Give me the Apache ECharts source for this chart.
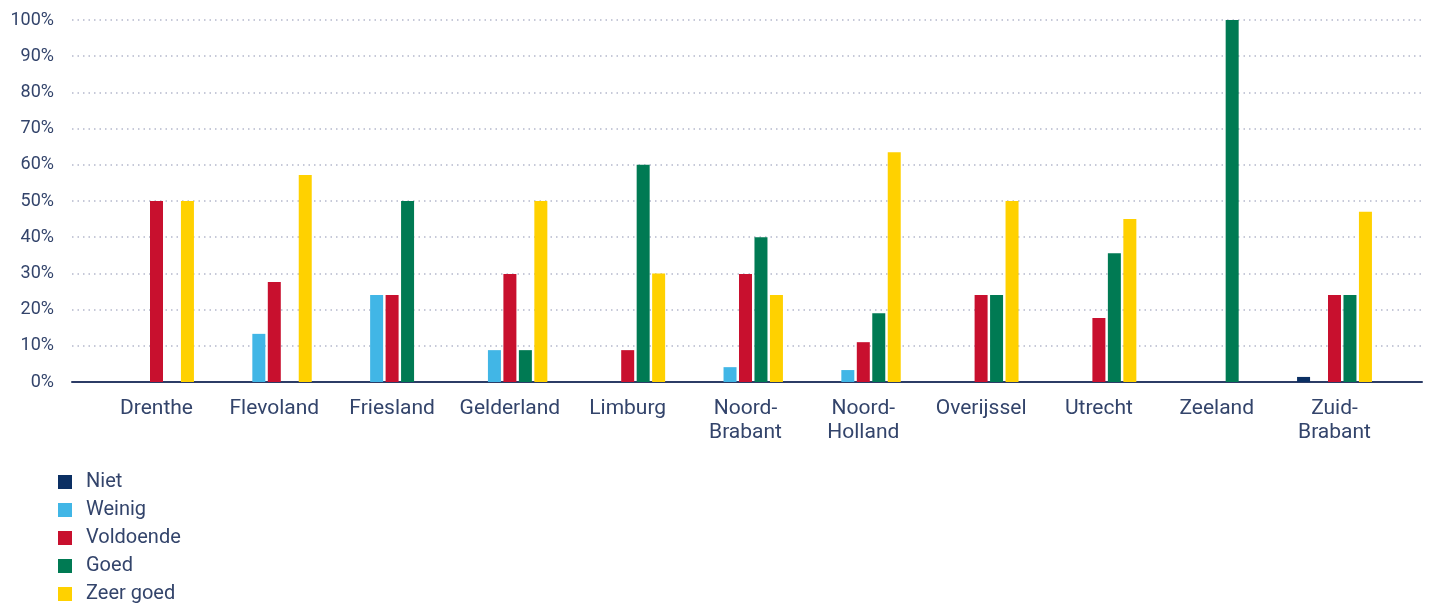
<!DOCTYPE html>
<html>
<head>
<meta charset="utf-8">
<script src="https://cdn.jsdelivr.net/npm/echarts@6/dist/echarts.min.js"></script>
<style>
html,body{margin:0;padding:0;background:#fff;}
#chart{width:1430px;height:608px;}
</style>
</head>
<body>
<div id="chart"></div>
<script>
const categories = ['Drenthe','Flevoland','Friesland','Gelderland','Limburg','Noord-\nBrabant','Noord-\nHolland','Overijssel','Utrecht','Zeeland','Zuid-\nBrabant'];
const seriesNames = ['Niet','Weinig','Voldoende','Goed','Zeer goed'];
const niet      = [0, 0, 0, 0, 0, 0, 0, 0, 0, 0, 1.4];
const weinig    = [0, 13.3, 24, 8.8, 0, 4.1, 3.3, 0, 0, 0, 0];
const voldoende = [50, 27.6, 24, 29.8, 8.8, 29.8, 11, 24, 17.7, 0, 24];
const goed      = [0, 0, 50, 8.8, 60, 40, 19, 24, 35.6, 100, 24];
const zeerGoed  = [50, 57.2, 0, 50, 30, 24, 63.5, 50, 45, 0, 47];
const yTicks = [0,10,20,30,40,50,60,70,80,90,100];

const colors = ['#0b2f63','#41b6e6','#c8102e','#007a53','#ffd100'];
const textColor = '#33446b';
const font = 'Roboto, "Liberation Sans", Arial, sans-serif';
const values = [niet, weinig, voldoende, goed, zeerGoed];

const chart = echarts.init(document.getElementById('chart'), null, {renderer:'canvas'});
chart.setOption({
  animation:false,
  color: colors,
  textStyle:{fontFamily:font, color:textColor},
  legend:{
    orient:'vertical', left:58, top:472, padding:0, height:136,
    itemWidth:14, itemHeight:14, itemGap:8,
    icon:'rect',
    data: seriesNames,
    textStyle:{fontSize:20, color:textColor, fontFamily:font, padding:[0,0,0,9]}
  },
  grid:[
    {left:72, right:8, top:20, bottom:226, containLabel:false},
    {left:97.6, right:36.6, top:20, bottom:226, containLabel:false}
  ],
  xAxis:[
    {type:'value', gridIndex:0, min:0, max:1, axisLabel:{show:false}, axisTick:{show:false}, splitLine:{show:false},
     axisLine:{show:true, onZero:false, lineStyle:{color:'#2c3c66', width:2}}},
    {type:'category', gridIndex:1, data:categories, axisLine:{show:false}, axisTick:{show:false},
     axisLabel:{interval:0, fontSize:21, color:textColor, margin:15, lineHeight:24, fontFamily:font}}
  ],
  yAxis:[
    {type:'value', gridIndex:0, min:yTicks[0], max:yTicks[yTicks.length-1], interval:10,
     axisLine:{show:false}, axisTick:{show:false},
     axisLabel:{fontSize:18, color:textColor, margin:18, formatter:'{value}%', fontFamily:font},
     splitLine:{show:true, lineStyle:{color:'#b4b8cc', width:1.5, type:[1.5,4]}}},
    {type:'value', gridIndex:1, min:0, max:100, show:false, splitLine:{show:false}}
  ],
  series: seriesNames.map((name,i)=>({
    name:name, type:'bar', xAxisIndex:1, yAxisIndex:1,
    barWidth:13, barGap:'19%',
    itemStyle:{color:colors[i]},
    data: values[i]
  }))
});
</script>
</body>
</html>
